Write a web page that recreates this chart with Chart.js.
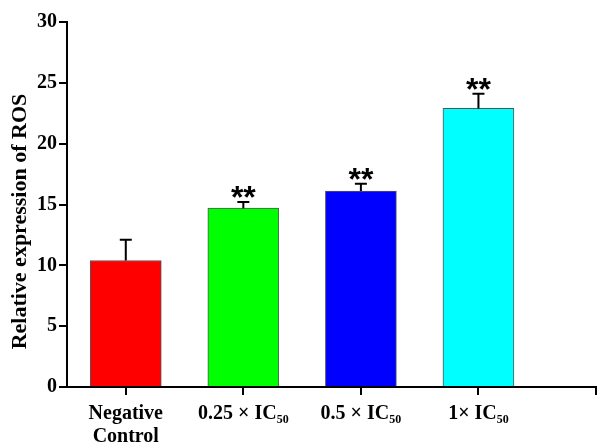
<!DOCTYPE html>
<html>
<head>
<meta charset="utf-8">
<script src="https://cdn.jsdelivr.net/npm/chart.js@4"></script>
<style>
  html, body { margin: 0; padding: 0; background: #fff; }
  #wrap { width: 597px; height: 442px; }
</style>
</head>
<body>
<div id="wrap"><canvas id="rosChart"></canvas></div>
<script>
// data
const groups = [["Negative", "Control"], "0.25 × IC₅₀", "0.5 × IC₅₀", "1× IC₅₀"];
const rosValues = [10.4, 14.7, 16.1, 22.9];
const rosErrors = [1.7, 0.5, 0.6, 1.2];
const significance = ["", "**", "**", "**"];
const barColors = ["#ff0000", "#00ff00", "#0000ff", "#00ffff"];
const yTicks = [0, 5, 10, 15, 20, 25, 30];
const yTitle = "Relative expression of ROS";

const serif = "'Liberation Serif', 'Times New Roman', serif";

// error bars (upper only), significance stars, y title (sits a bit below the axis middle)
const errorBarPlugin = {
  id: "errorBars",
  afterDatasetsDraw(chart) {
    const ctx = chart.ctx;
    const x = chart.scales.x, y = chart.scales.y;
    ctx.save();
    ctx.strokeStyle = "#000";
    ctx.lineWidth = 2;
    rosValues.forEach((v, i) => {
      const px = x.getPixelForValue(i);
      const top = y.getPixelForValue(v + rosErrors[i]);
      const base = y.getPixelForValue(v);
      ctx.beginPath();
      ctx.moveTo(px, base);
      ctx.lineTo(px, top);
      ctx.moveTo(px - 6, top);
      ctx.lineTo(px + 6, top);
      ctx.stroke();
      if (significance[i]) {
        const fs = 32;
        ctx.fillStyle = "#000";
        ctx.font = "bold " + fs + "px 'Liberation Sans', Arial, sans-serif";
        ctx.textAlign = "center";
        ctx.textBaseline = "alphabetic";
        ctx.fillText(significance[i], px, top + 6);
      }
    });

    ctx.translate(20, y.getPixelForValue(13.6));
    ctx.rotate(-Math.PI / 2);
    ctx.font = "bold 22px " + serif;
    ctx.fillStyle = "#000";
    ctx.textAlign = "center";
    ctx.textBaseline = "middle";
    ctx.fillText(yTitle, 0, 0);
    ctx.restore();
  }
};

const ctx = document.getElementById("rosChart").getContext("2d");
const chart = new Chart(ctx, {
  type: "bar",
  data: {
    datasets: [{
      data: rosValues.map((v, i) => ({ x: i, y: v })),
      backgroundColor: barColors,
      borderColor: "#555",
      borderWidth: 1,
      barThickness: 71
    }]
  },
  options: {
    responsive: true,
    maintainAspectRatio: false,
    animation: false,
    layout: { padding: { top: 22, right: 1, bottom: 0, left: 0 } },
    plugins: {
      legend: { display: false },
      tooltip: { enabled: false }
    },
    scales: {
      x: {
        type: "linear",
        offset: false,
        min: -0.5,
        max: 4,
        afterBuildTicks: scale => { scale.ticks = [0, 1, 2, 3, 4].map(v => ({ value: v })); },
        afterFit: scale => {
          scale.height = 55;
          scale.paddingLeft = 0;
          scale.paddingRight = 0;
        },
        border: { color: "#000", width: 2 },
        grid: { offset: false, drawOnChartArea: false, color: "#000", lineWidth: 2, tickLength: 8 },
        ticks: {
          color: "#000",
          autoSkip: false,
          maxRotation: 0,
          padding: 7,
          font: { family: serif, size: 20, weight: "bold", lineHeight: 1.15 },
          callback: v => groups[v] !== undefined ? groups[v] : ""
        }
      },
      y: {
        min: 0,
        max: 30,
        afterBuildTicks: scale => { scale.ticks = yTicks.map(v => ({ value: v })); },
        afterFit: scale => { scale.width = 67; },
        border: { color: "#000", width: 2 },
        grid: { drawOnChartArea: false, color: "#000", lineWidth: 2, tickLength: 8 },
        ticks: {
          color: "#000",
          padding: 2,
          font: { family: serif, size: 20, weight: "bold" }
        }
      }
    }
  },
  plugins: [errorBarPlugin]
});
</script>
</body>
</html>
